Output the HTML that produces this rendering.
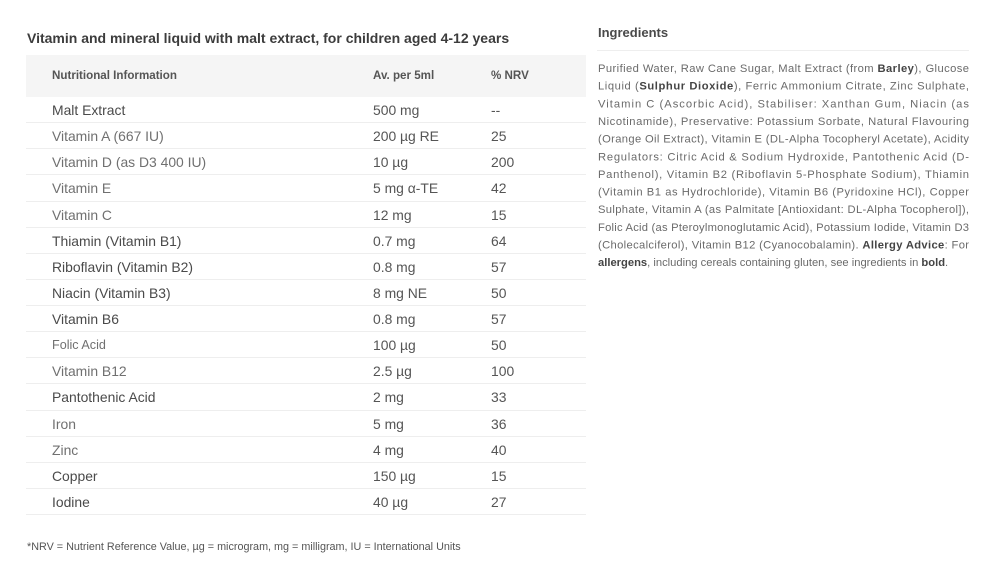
<!DOCTYPE html>
<html><head><meta charset="utf-8"><style>
*{margin:0;padding:0;box-sizing:border-box}
body{width:1000px;height:583px;background:#fff;position:relative;overflow:hidden;font-family:"Liberation Sans",sans-serif;color:#555}
.t{position:absolute;left:27px;top:30px;font-size:14px;font-weight:bold;color:#3c3c3c;white-space:nowrap}
.hb{position:absolute;left:26px;top:55px;width:560px;height:42px;background:#f5f5f5}
.h{position:absolute;top:69px;font-size:11.6px;font-weight:bold;color:#555;white-space:nowrap}
.r{position:absolute;left:26px;width:560px;height:26.13px;border-bottom:1px solid #eeeeee;font-size:13.9px;line-height:26px;white-space:nowrap}
.r span{position:absolute;top:0}
.c1{left:26px}.c2{left:347px;color:#555}.c3{left:465px;color:#555}
.d{color:#4a4a4a}.l{color:#707070}
.fn{position:absolute;left:27px;top:541px;font-size:10.8px;color:#555;white-space:nowrap}
.ih{position:absolute;left:598px;top:25px;font-size:13px;font-weight:bold;color:#4a4a4a}
.il{position:absolute;left:597px;top:50px;width:372px;height:1px;background:#eeeeee}
svg.ing{position:absolute;left:0;top:0}
svg.ing text{font-family:"Liberation Sans",sans-serif;font-size:11.2px;fill:#6a6a6a}
svg.ing tspan.b{font-weight:bold;fill:#444}
</style></head><body>
<div class="t">Vitamin and mineral liquid with malt extract, for children aged 4-12 years</div>
<div class="hb"></div>
<div class="h" style="left:52px">Nutritional Information</div>
<div class="h" style="left:373px">Av. per 5ml</div>
<div class="h" style="left:491px">% NRV</div>

<div class="r d" style="top:97px"><span class="c1">Malt Extract</span><span class="c2">500 mg</span><span class="c3">--</span></div>
<div class="r l" style="top:123.13px"><span class="c1">Vitamin A (667 IU)</span><span class="c2">200 µg RE</span><span class="c3">25</span></div>
<div class="r l" style="top:149.26px"><span class="c1">Vitamin D (as D3 400 IU)</span><span class="c2">10 µg</span><span class="c3">200</span></div>
<div class="r l" style="top:175.39px"><span class="c1">Vitamin E</span><span class="c2">5 mg α-TE</span><span class="c3">42</span></div>
<div class="r l" style="top:201.52px"><span class="c1">Vitamin C</span><span class="c2">12 mg</span><span class="c3">15</span></div>
<div class="r d" style="top:227.65px"><span class="c1">Thiamin (Vitamin B1)</span><span class="c2">0.7 mg</span><span class="c3">64</span></div>
<div class="r d" style="top:253.78px"><span class="c1">Riboflavin (Vitamin B2)</span><span class="c2">0.8 mg</span><span class="c3">57</span></div>
<div class="r d" style="top:279.91px"><span class="c1">Niacin (Vitamin B3)</span><span class="c2">8 mg NE</span><span class="c3">50</span></div>
<div class="r d" style="top:306.04px"><span class="c1">Vitamin B6</span><span class="c2">0.8 mg</span><span class="c3">57</span></div>
<div class="r l" style="top:332.17px"><span class="c1" style="font-size:12.6px">Folic Acid</span><span class="c2">100 µg</span><span class="c3">50</span></div>
<div class="r l" style="top:358.3px"><span class="c1">Vitamin B12</span><span class="c2">2.5 µg</span><span class="c3">100</span></div>
<div class="r d" style="top:384.43px"><span class="c1">Pantothenic Acid</span><span class="c2">2 mg</span><span class="c3">33</span></div>
<div class="r l" style="top:410.56px"><span class="c1">Iron</span><span class="c2">5 mg</span><span class="c3">36</span></div>
<div class="r l" style="top:436.69px"><span class="c1">Zinc</span><span class="c2">4 mg</span><span class="c3">40</span></div>
<div class="r d" style="top:462.82px"><span class="c1">Copper</span><span class="c2">150 µg</span><span class="c3">15</span></div>
<div class="r d" style="top:488.95px"><span class="c1">Iodine</span><span class="c2">40 µg</span><span class="c3">27</span></div>

<div class="fn">*NRV = Nutrient Reference Value, µg = microgram, mg = milligram, IU = International Units</div>

<div class="ih">Ingredients</div>
<div class="il"></div>
<svg class="ing" width="1000" height="583" viewBox="0 0 1000 583">
<text x="598" y="72" textLength="371" lengthAdjust="spacing">Purified Water, Raw Cane Sugar, Malt Extract (from <tspan class="b">Barley</tspan>), Glucose</text>
<text x="598" y="89.65" textLength="371" lengthAdjust="spacing">Liquid (<tspan class="b">Sulphur Dioxide</tspan>), Ferric Ammonium Citrate, Zinc Sulphate,</text>
<text x="598" y="107.3" textLength="371" lengthAdjust="spacing">Vitamin C (Ascorbic Acid), Stabiliser: Xanthan Gum, Niacin (as</text>
<text x="598" y="124.95" textLength="371" lengthAdjust="spacing">Nicotinamide), Preservative: Potassium Sorbate, Natural Flavouring</text>
<text x="598" y="142.6" textLength="371" lengthAdjust="spacing">(Orange Oil Extract), Vitamin E (DL-Alpha Tocopheryl Acetate), Acidity</text>
<text x="598" y="160.25" textLength="371" lengthAdjust="spacing">Regulators: Citric Acid &amp; Sodium Hydroxide, Pantothenic Acid (D-</text>
<text x="598" y="177.9" textLength="371" lengthAdjust="spacing">Panthenol), Vitamin B2 (Riboflavin 5-Phosphate Sodium), Thiamin</text>
<text x="598" y="195.55" textLength="371" lengthAdjust="spacing">(Vitamin B1 as Hydrochloride), Vitamin B6 (Pyridoxine HCl), Copper</text>
<text x="598" y="213.2" textLength="371" lengthAdjust="spacing">Sulphate, Vitamin A (as Palmitate [Antioxidant: DL-Alpha Tocopherol]),</text>
<text x="598" y="230.85" textLength="371" lengthAdjust="spacing">Folic Acid (as Pteroylmonoglutamic Acid), Potassium Iodide, Vitamin D3</text>
<text x="598" y="248.5" textLength="371" lengthAdjust="spacing">(Cholecalciferol), Vitamin B12 (Cyanocobalamin). <tspan class="b">Allergy Advice</tspan>: For</text>
<text x="598" y="266.15"><tspan class="b">allergens</tspan>, including cereals containing gluten, see ingredients in <tspan class="b">bold</tspan>.</text>
</svg>
</body></html>
